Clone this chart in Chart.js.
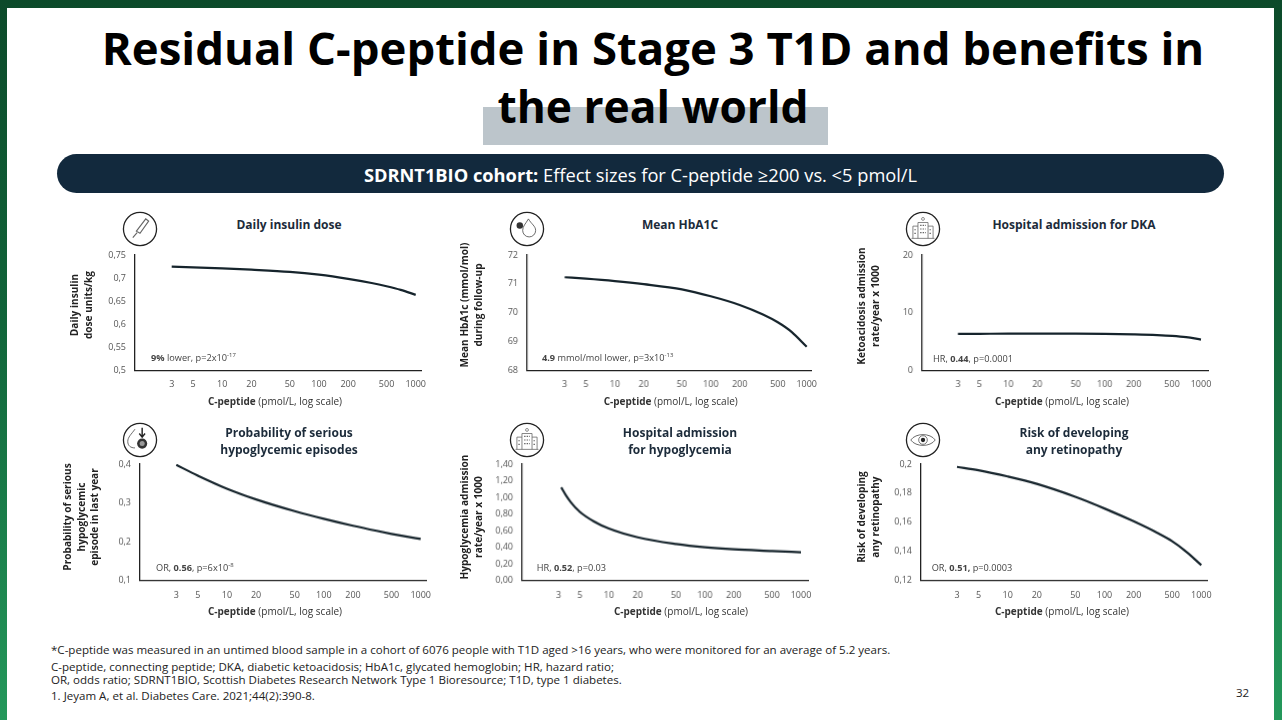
<!DOCTYPE html>
<html>
<head>
<meta charset="utf-8">
<title>Residual C-peptide</title>
<script src="https://cdn.jsdelivr.net/npm/chart.js@4"></script>
<style>
html,body{margin:0;padding:0;background:#fff;}
#slide{position:relative;width:1282px;height:720px;overflow:hidden;background:linear-gradient(180deg,#0c4a2a 0%,#11653a 45%,#24985b 100%);}
#paper{position:absolute;left:7px;top:8px;right:8px;bottom:0;background:#fff;}
#title{position:absolute;left:0;width:1306px;top:17.5px;text-align:center;font:bold 45.5px/58px "Open Sans",sans-serif;color:#000;z-index:2;}
#title span{font-size:44.3px;}
#shade{position:absolute;left:483px;top:107px;width:345px;height:38px;background:#bcc5cb;}
#banner{position:absolute;left:57px;top:154px;width:1167px;height:39px;border-radius:20px;background:#12293d;color:#fff;text-align:center;font:18.25px/42px "Open Sans",sans-serif;}
.abs{position:absolute;white-space:nowrap;}
.ptitle{font:bold 12px/16.5px "Open Sans",sans-serif;color:#1c2b3a;text-align:center;transform:translateX(-50%);}
.xtitle{font:10px/12px "Open Sans",sans-serif;color:#333;transform:translateX(-50%);}
.ytitle{font:bold 10.1px/13.5px "Open Sans",sans-serif;color:#222;text-align:center;transform:translate(-50%,-50%) rotate(-90deg);}
.note{font:9.2px/12px "Open Sans",sans-serif;color:#444;transform:translateY(-50%);}
.note sup{font-size:6px;line-height:0;}
.foot{font:11.55px/14px "Open Sans",sans-serif;color:#222;left:51px;}
canvas{position:absolute;}
svg{position:absolute;}
</style>
</head>
<body>
<div id="slide">
<div id="paper"></div>
<div id="shade"></div>
<div id="title">Residual C-peptide in Stage 3 T1D and benefits in<br><span>the real world</span></div>
<div id="banner"><b>SDRNT1BIO cohort:</b> Effect sizes for C-peptide ≥200 vs. &lt;5 pmol/L</div>
<div class="abs foot" style="top:643px">*C-peptide was measured in an untimed blood sample in a cohort of 6076 people with T1D aged &gt;16 years, who were monitored for an average of 5.2 years.</div>
<div class="abs foot" style="top:660px">C-peptide, connecting peptide; DKA, diabetic ketoacidosis; HbA1c, glycated hemoglobin; HR, hazard ratio;</div>
<div class="abs foot" style="top:673px">OR, odds ratio; SDRNT1BIO, Scottish Diabetes Research Network Type 1 Bioresource; T1D, type 1 diabetes.</div>
<div class="abs foot" style="top:689px">1. Jeyam A, et al. Diabetes Care. 2021;44(2):390-8.</div>
<div class="abs foot" style="left:1236px;top:686px">32</div>
</div>
<script>
// x axis, same on every panel
const xTicks = [3, 5, 10, 20, 50, 100, 200, 500, 1000];
const xPoints = [3, 5, 10, 20, 50, 100, 200, 350, 500, 700, 1000];
const xPointsHypoAdm = [3.2, 3.6, 4, 5, 7, 10, 20, 50, 100, 200, 500, 1000];

// values
const insulinDose = [0.7247, 0.7233, 0.721, 0.7182, 0.7135, 0.7073, 0.6983, 0.6893, 0.6822, 0.6743, 0.6635];
const meanHba1c = [71.23, 71.18, 71.096, 70.99, 70.81, 70.57, 70.27, 69.94, 69.67, 69.33, 68.82];
const dkaRate = [6.3, 6.32, 6.35, 6.36, 6.36, 6.32, 6.22, 6.1, 5.97, 5.75, 5.32];
const hypoProb = [0.398, 0.3703, 0.3366, 0.309, 0.2788, 0.259, 0.2412, 0.2281, 0.2203, 0.2136, 0.2071];
const hypoAdmission = [1.12, 1.02, 0.945, 0.825, 0.71, 0.625, 0.52, 0.44, 0.40, 0.375, 0.355, 0.34];
const retinopathy = [0.1981, 0.1958, 0.1915, 0.1864, 0.1775, 0.1695, 0.1607, 0.1528, 0.147, 0.1398, 0.1306];

const insulinTicks = ["0,5", "0,55", "0,6", "0,65", "0,7", "0,75"];
const hba1cTicks = ["68", "69", "70", "71", "72"];
const dkaTicks = ["0", "10", "20"];
const hypoProbTicks = ["0,1", "0,2", "0,3", "0,4"];
const hypoAdmTicks = ["0,00", "0,20", "0,40", "0,60", "0,80", "1,00", "1,20", "1,40"];
const retinoTicks = ["0,12", "0,14", "0,16", "0,18", "0,2"];

// l,r,t,b axis box; x3,x1000 pixel of those ticks
const panels = [
  {name:"Daily insulin dose", xs:xPoints, ys:insulinDose, labels:insulinTicks, l:135, r:421, t:254.5, b:369.7, x3:171.7, x1000:415.7,
   yTitle:"Daily insulin<br>dose units/kg", yx:80.5, yy:305, tx:289, ty:217, xt:275, xty:395, note:"<b>9%</b> lower, p=2x10<sup>-17</sup>", nx:151, ny:358, icon:"pen", ix:140},
  {name:"Mean HbA1C", xs:xPoints, ys:meanHba1c, labels:hba1cTicks, l:527.3, r:810.7, t:254.5, b:370, x3:564.7, x1000:806,
   yTitle:"Mean HbA1c (mmol/mol)<br>during follow-up", yx:471, yy:305, tx:680, ty:217, xt:670.7, xty:395, note:"<b>4.9</b> mmol/mol lower, p=3x10<sup>-13</sup>", nx:542, ny:358, icon:"drop", ix:527},
  {name:"Hospital admission for DKA", xs:xPoints, ys:dkaRate, labels:dkaTicks, l:922, r:1207.7, t:254.5, b:369.7, x3:957.7, x1000:1200,
   yTitle:"Ketoacidosis admission<br>rate/year x 1000", yx:867.5, yy:306, tx:1074, ty:217, xt:1062, xty:395, note:"HR, <b>0.44</b>, p=0.0001", nx:933, ny:358.7, icon:"hosp", ix:923},
  {name:"Probability of serious<br>hypoglycemic episodes", xs:xPoints, ys:hypoProb, labels:hypoProbTicks, l:140, r:426, t:464, b:579.7, x3:176.3, x1000:420.7,
   yTitle:"Probability of serious<br>hypoglycemic<br>episode in last year", yx:80.5, yy:517, tx:289, ty:425, xt:275, xty:605, note:"OR, <b>0.56</b>, p=6x10<sup>-8</sup>", nx:156, ny:567.7, icon:"hypo", ix:140},
  {name:"Hospital admission<br>for hypoglycemia", xs:xPointsHypoAdm, ys:hypoAdmission, labels:hypoAdmTicks, l:522, r:807.7, t:464, b:579.7, x3:558.3, x1000:800,
   yTitle:"Hypoglycemia admission<br>rate/year x 1000", yx:471, yy:517, tx:680, ty:425, xt:681, xty:605, note:"HR, <b>0.52</b>, p=0.03", nx:536.7, ny:568, icon:"hosp", ix:527},
  {name:"Risk of developing<br>any retinopathy", xs:xPoints, ys:retinopathy, labels:retinoTicks, l:920.7, r:1206.7, t:464, b:579.7, x3:956.7, x1000:1201,
   yTitle:"Risk of developing<br>any retinopathy", yx:867.5, yy:517, tx:1074, ty:425, xt:1062, xty:605, note:"OR, <b>0.51,</b> p=0.0003", nx:931.7, ny:568, icon:"eye", ix:923}
];

const slide = document.getElementById("slide");

function addText(cls, html, x, y) {
  const d = document.createElement("div");
  d.className = "abs " + cls;
  d.innerHTML = html;
  d.style.left = x + "px";
  d.style.top = y + "px";
  slide.appendChild(d);
}

// small line icons in the circles, decoration only
const iconArt = {
  pen: '<path d="M20 28 L33 11 L37 14 L25 31 Z M15 37 L21 30" fill="none" stroke="#666" stroke-width="1.6"/>',
  drop: '<path d="M27 11 C23 18 19 21 19 27 A9 9 0 0 0 37 27 C37 21 31 18 27 11 Z" fill="none" stroke="#444" stroke-width="1.1"/><circle cx="15" cy="20" r="4.5" fill="#333"/>',
  hosp: '<path d="M18 38 V16 H32 V38 M11 38 V21 H18 M32 21 H39 V38 M9 38 H41" fill="none" stroke="#666" stroke-width="1.1"/><path d="M21 20 H29 M21 25 H29 M21 30 H29 M13 26 H16 M13 31 H16 M34 26 H37 M34 31 H37" stroke="#666" stroke-width="1.6" stroke-dasharray="2 1.5"/><circle cx="25" cy="11" r="2" fill="none" stroke="#666"/>',
  hypo: '<path d="M18 10 C13 17 8 21 8 27 C8 33 12 36 18 36" fill="none" stroke="#444" stroke-width="1.1"/><circle cx="28" cy="30" r="7" fill="#333"/><circle cx="28" cy="30" r="3.5" fill="#999"/><path d="M28 8 V20 M24 16 L28 21 L32 16" fill="none" stroke="#222" stroke-width="2"/>',
  eye: '<path d="M8 25 C15 15 35 15 42 25 C35 35 15 35 8 25 Z" fill="none" stroke="#444" stroke-width="1.1"/><circle cx="25" cy="25" r="6" fill="none" stroke="#444" stroke-width="1"/><circle cx="25" cy="25" r="3" fill="#222"/>'
};

function addIcon(kind, x, y) {
  const s = document.createElementNS("http://www.w3.org/2000/svg", "svg");
  s.setAttribute("width", 36);
  s.setAttribute("height", 36);
  s.setAttribute("viewBox", "0 0 50 50");
  s.style.left = (x - 18) + "px";
  s.style.top = (y - 18) + "px";
  s.innerHTML = '<circle cx="25" cy="25" r="23" fill="#fff" stroke="#222" stroke-width="1.8"/>' + iconArt[kind];
  slide.appendChild(s);
}

panels.forEach(function(p) {
  const cv = document.createElement("canvas");
  const left = p.l - 50;
  const top = p.t - 8;
  const w = p.r - left + 14;
  const h = p.b - top + 26;
  const wrap = document.createElement("div");
  wrap.className = "abs";
  wrap.style.cssText = "left:" + left + "px;top:" + top + "px;width:" + w + "px;height:" + h + "px;";
  wrap.appendChild(cv);
  slide.appendChild(wrap);

  // log range so that 3 and 1000 land on the same pixels as the reference
  const perDecade = (p.x1000 - p.x3) / (3 - Math.log10(3));
  const xMin = Math.pow(10, Math.log10(3) - (p.x3 - p.l) / perDecade);
  const xMax = Math.pow(10, 3 + (p.r - p.x1000) / perDecade);

  const yNums = p.labels.map(function(s) { return parseFloat(s.replace(",", ".")); });

  new Chart(cv, {
    type: "line",
    data: {
      datasets: [{
        data: p.xs.map(function(x, i) { return {x: x, y: p.ys[i]}; }),
        borderColor: "#16242c",
        borderWidth: 2.2,
        pointRadius: 0,
        cubicInterpolationMode: "monotone",
        fill: false
      }]
    },
    options: {
      responsive: true,
      maintainAspectRatio: false,
      animation: false,
      layout: {padding: {left: 0, right: 14, top: 8, bottom: 0}},
      plugins: {legend: {display: false}, tooltip: {enabled: false}},
      scales: {
        x: {
          type: "logarithmic",
          min: xMin,
          max: xMax,
          afterBuildTicks: function(ax) { ax.ticks = xTicks.map(function(v) { return {value: v}; }); },
          afterFit: function(ax) { ax.height = 26; },
          grid: {display: false, drawTicks: true, tickLength: 3, tickColor: "#222"},
          border: {display: true, color: "#222", width: 1.3},
          ticks: {
            autoSkip: false,
            maxRotation: 0,
            padding: 6,
            color: "#555",
            font: {family: "Open Sans", size: 9},
            callback: function(v) { return String(v); }
          }
        },
        y: {
          type: "linear",
          min: yNums[0],
          max: yNums[yNums.length - 1],
          afterBuildTicks: function(ax) { ax.ticks = yNums.map(function(v) { return {value: v}; }); },
          afterFit: function(ax) { ax.width = 50; ax.paddingTop = 0; },
          grid: {display: false, drawTicks: true, tickLength: 3, tickColor: "#222"},
          border: {display: true, color: "#222", width: 1.3},
          ticks: {
            padding: 6,
            color: "#555",
            font: {family: "Open Sans", size: 9},
            callback: function(v) { return p.labels[yNums.indexOf(v)]; }
          }
        }
      }
    }
  });

  addText("ptitle", p.name, p.tx, p.ty);
  addText("xtitle", '<b>C-peptide</b> (pmol/L, log scale)', p.xt, p.xty);
  addText("ytitle", p.yTitle, p.yx, p.yy);
  addText("note", p.note, p.nx, p.ny);
  addIcon(p.icon, p.ix, p.t > 400 ? 440 : 229);
});
</script>
</body>
</html>
